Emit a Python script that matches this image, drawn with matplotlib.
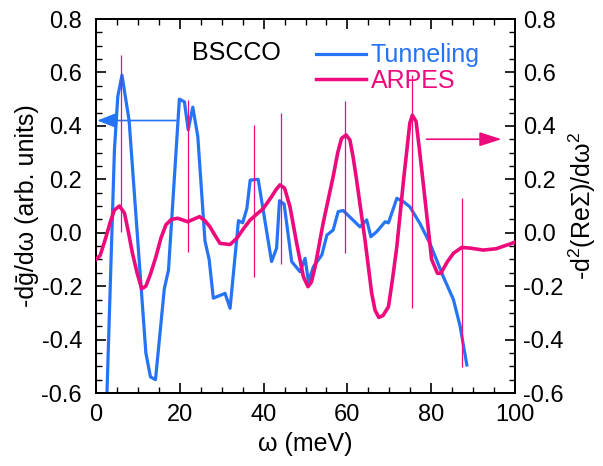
import matplotlib
matplotlib.use("Agg")
import matplotlib.pyplot as plt
from matplotlib.ticker import MultipleLocator

plt.rcParams['font.family'] = ['Liberation Sans', 'DejaVu Sans']
plt.rcParams['mathtext.fontset'] = 'custom'
plt.rcParams['mathtext.rm'] = 'Liberation Sans'
plt.rcParams['mathtext.it'] = 'Liberation Sans'

# Tunneling: -dg/dw
tun_w = [2.5, 4.4, 5.2, 6.2, 7.9, 11.9, 13.0, 14.2, 16.3, 17.3, 19.9, 21.1, 22.0, 23.1, 24.3,
         26.0, 27.0, 28.0, 30.8, 32.0, 34.0, 35.0, 36.0, 36.8, 38.7, 41.9, 43.1, 43.8, 44.9,
         46.7, 48.7, 49.9, 50.7, 51.9, 53.9, 55.1, 56.6, 57.8, 59.0, 63.0, 64.6, 65.6, 67.0,
         69.0, 69.8, 71.8, 73.4, 74.9, 77.3, 79.7, 82.9, 85.3, 86.9, 88.5]
tun_v = [-0.66, 0.31, 0.51, 0.59, 0.42, -0.45, -0.54, -0.55, -0.21, -0.14, 0.50, 0.49, 0.385, 0.47, 0.36,
         -0.03, -0.10, -0.245, -0.227, -0.283, 0.045, 0.037, 0.09, 0.197, 0.20, -0.108, -0.058, 0.12, 0.107,
         -0.108, -0.146, -0.096, -0.183, -0.127, -0.083, -0.009, 0.01, 0.079, 0.083, 0.022, 0.048, -0.015, 0.004,
         0.041, 0.037, 0.129, 0.116, 0.097, 0.035, -0.04, -0.165, -0.25, -0.35, -0.495]

# ARPES: -d2(ReSigma)/dw2
arp_w = [0, 1.0, 2.4, 3.4, 4.4, 5.6, 6.8, 7.7, 8.7, 9.8, 10.9, 11.9, 13.0, 14.3, 15.5, 16.7, 18.0, 19.5,
         21.9, 23.5, 24.7, 26.0, 27.2, 28.4, 29.6, 32.0, 33.6, 35.2, 36.8, 38.4, 39.9, 41.9, 43.0, 43.9,
         45.0, 46.3, 47.9, 49.5, 50.6, 51.4, 52.3, 54.2, 56.6, 57.7, 58.6, 59.7, 60.6, 61.4, 62.2, 64.2,
         65.8, 66.6, 67.5, 68.5, 69.8, 70.8, 71.8, 73.4, 74.9, 75.5, 76.4, 77.2, 78.1, 80.1, 81.5, 82.3,
         83.8, 85.3, 87.3, 89.5, 92.4, 95.5, 99.2, 100]
arp_v = [-0.10, -0.085, -0.015, 0.04, 0.085, 0.10, 0.073, 0.005, -0.077, -0.15, -0.21, -0.20, -0.155,
         -0.09, -0.02, 0.03, 0.05, 0.054, 0.041, 0.052, 0.06, 0.045, 0.022, -0.01, -0.04, -0.044, -0.021,
         0.015, 0.048, 0.07, 0.09, 0.135, 0.162, 0.179, 0.167, 0.097, -0.04, -0.165, -0.202, -0.185,
         -0.127, 0.035, 0.21, 0.30, 0.353, 0.366, 0.347, 0.28, 0.197, -0.027, -0.227, -0.29, -0.317,
         -0.31, -0.277, -0.17, -0.052, 0.197, 0.41, 0.44, 0.416, 0.31, 0.185, -0.10, -0.152, -0.152,
         -0.11, -0.077, -0.055, -0.058, -0.065, -0.06, -0.04, -0.035]

# vertical marker lines
mark_w = [6.0, 22.0, 37.7, 44.2, 59.4, 75.3, 87.4]
mark_top = [0.665, 0.497, 0.403, 0.45, 0.493, 0.59, 0.129]
mark_bot = [0.004, -0.071, -0.165, -0.117, -0.077, -0.283, -0.502]

blue = '#2474f5'
pink = '#ec0a7c'

fig = plt.figure(figsize=(6.03, 4.66), dpi=100)
ax = fig.add_axes([96/603, 1-393/466, 419/603, 374/466])
ax2 = ax.twinx()

ax.plot(tun_w, tun_v, color=blue, lw=2.3, label='Tunneling', zorder=3, solid_joinstyle='round')
ax.plot([], [], color=pink, lw=2.5, label='ARPES')
ax2.plot(arp_w, arp_v, color=pink, lw=2.6, zorder=3, solid_joinstyle='round')
ax2.vlines(mark_w, mark_bot, mark_top, color=pink, lw=0.9)

for a in (ax, ax2):
    a.set_xlim(0, 100)
    a.set_ylim(-0.6, 0.8)
    a.yaxis.set_major_locator(MultipleLocator(0.2))
    a.yaxis.set_minor_locator(MultipleLocator(0.05))
    a.tick_params(which='major', direction='in', length=7, width=1.2, labelsize=17)
    a.tick_params(which='minor', direction='in', length=4, width=1.0)
    for s in a.spines.values():
        s.set_linewidth(1.3)
ax.xaxis.set_major_locator(MultipleLocator(20))
ax.xaxis.set_minor_locator(MultipleLocator(5))
ax.tick_params(axis='x', which='both', top=True)
ax.tick_params(axis='y', which='major', pad=10)
ax.tick_params(axis='x', which='major', pad=8)
ax2.tick_params(axis='y', which='major', pad=6)
ax.set_yticklabels([f'{v:.1f}' for v in ax.get_yticks()])
ax2.set_yticklabels([f'{v:.1f}' for v in ax2.get_yticks()])

ax.set_xlabel('ω (meV)', fontsize=18, labelpad=4)
ax.set_ylabel('-dḡ/dω (arb. units)', fontsize=18, labelpad=2)
ax2.set_ylabel(r'-d$^2$(ReΣ)/dω$^2$', fontsize=18, labelpad=2)

ax.text(33.6, 0.673, 'BSCCO', fontsize=18, ha='center', va='center')

leg = ax.legend(loc='upper left', bbox_to_anchor=(0.525, 0.935), frameon=False, fontsize=18,
                handlelength=2.0, handletextpad=0.2, labelspacing=0.06, borderpad=0, borderaxespad=0,
                labelcolor='linecolor')

ax.annotate('', xy=(0.3, 0.42), xytext=(19.1, 0.42),
            arrowprops=dict(arrowstyle='-|>,head_length=1.2,head_width=0.47', color=blue, lw=1.2,
                            mutation_scale=10, shrinkA=0, shrinkB=0))
ax2.annotate('', xy=(96.8, 0.35), xytext=(78.9, 0.35),
             arrowprops=dict(arrowstyle='-|>,head_length=1.35,head_width=0.43', color=pink, lw=1.2,
                             mutation_scale=10, shrinkA=0, shrinkB=0))

fig.savefig('out.png', dpi=100)
